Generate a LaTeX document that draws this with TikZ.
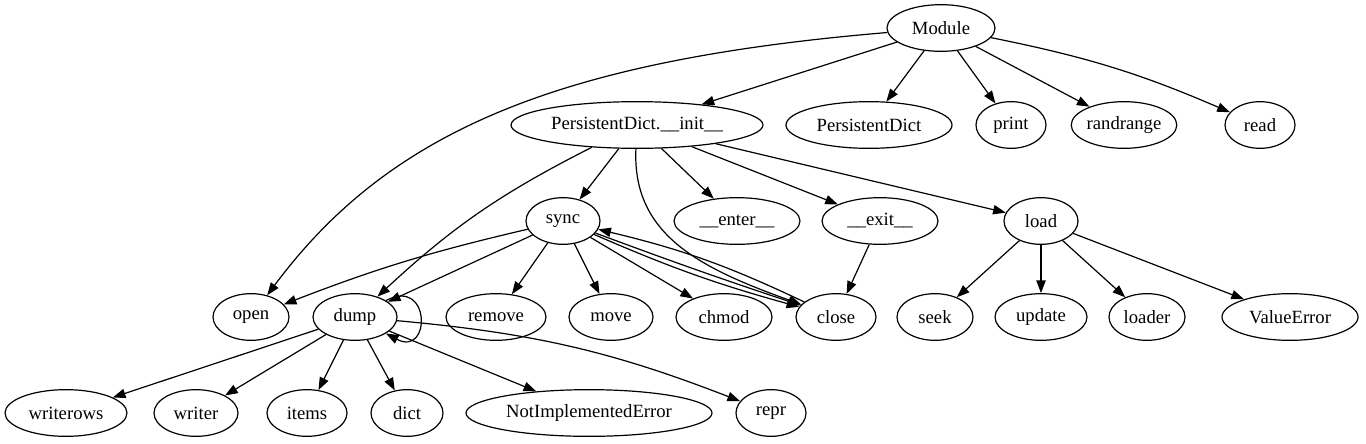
\documentclass[tikz,border=0pt]{standalone}
\usepackage{fontspec}
\setmainfont{Liberation Serif}
\usetikzlibrary{arrows.meta,shapes.geometric}
\tikzset{
  nd/.style={draw,ellipse,line width=0.9pt,inner sep=0pt,minimum height=35pt,font=\fontsize{14pt}{16pt}\selectfont},
  ar/.style={line width=0.9pt,-{Triangle[length=9.5pt,width=7pt]}}
}
\begin{document}
\begin{tikzpicture}[x=0.75pt,y=-0.75pt]
\useasboundingbox (0,0) rectangle (1366,443);
\node[nd,minimum width=81pt] (Module) at (941,28) {Module};
\node[nd,minimum width=189pt] (init) at (637,125) {PersistentDict.\_\_init\_\_};
\node[nd,minimum width=124.5pt] (PD) at (869,125) {PersistentDict};
\node[nd,minimum width=52.5pt] (print) at (1011,125) {print};
\node[nd,minimum width=73.5pt] (randrange) at (1124,125) {randrange};
\node[nd,minimum width=52.5pt] (read) at (1260,125) {read};
\node[nd,minimum width=55.5pt] (sync) at (563,221) {sync};
\node[nd,minimum width=94.5pt] (enter) at (737,221) {\_\_enter\_\_};
\node[nd,minimum width=87pt] (exit) at (880,221) {\_\_exit\_\_};
\node[nd,minimum width=55.5pt] (load) at (1041,221) {load};
\node[nd,minimum width=57pt] (open) at (251,317) {open};
\node[nd,minimum width=63pt] (dump) at (355,317) {dump};
\node[nd,minimum width=75pt] (remove) at (496,317) {remove};
\node[nd,minimum width=63pt] (move) at (611,317) {move};
\node[nd,minimum width=72pt] (chmod) at (724,317) {chmod};
\node[nd,minimum width=60pt] (close) at (836,317) {close};
\node[nd,minimum width=57pt] (seek) at (935,317) {seek};
\node[nd,minimum width=69pt] (update) at (1041,317) {update};
\node[nd,minimum width=57pt] (loader) at (1147,317) {loader};
\node[nd,minimum width=102pt] (VE) at (1290,317) {ValueError};
\node[nd,minimum width=91.5pt] (writerows) at (66,413) {writerows};
\node[nd,minimum width=63pt] (writer) at (196,413) {writer};
\node[nd,minimum width=60pt] (items) at (307,413) {items};
\node[nd,minimum width=54pt] (dict) at (407,413) {dict};
\node[nd,minimum width=184.5pt] (NIE) at (589,413) {NotImplementedError};
\node[nd,minimum width=52.5pt] (repr) at (771,413) {repr};
% Module edges
\draw[ar] (Module) .. controls (560,60) and (390,130) .. (open);
\draw[ar] (Module) -- (init);
\draw[ar] (Module) -- (PD);
\draw[ar] (Module) -- (print);
\draw[ar] (Module) -- (randrange);
\draw[ar] (Module) to[bend left=6] (read);
% init edges
\draw[ar] (init) to[bend right=8] (dump);
\draw[ar] (init) -- (sync);
\draw[ar] (init) .. controls (632,235) and (700,268) .. (close);
\draw[ar] (init) -- (enter);
\draw[ar] (init) -- (exit);
\draw[ar] (init) -- (load);
% sync edges
\draw[ar] (sync) to[bend right=4] (open);
\draw[ar] (sync) -- (dump);
\draw[ar] (sync) -- (remove);
\draw[ar] (sync) -- (move);
\draw[ar] (sync) -- (chmod);
\draw[ar] (sync) to[bend right=4] (close);
\draw[ar] (sync) to[bend right=1] (close);
\draw[ar] (close) to[bend right=6] (sync);
\draw[ar] (exit) -- (close);
% load edges
\draw[ar] (load) -- (seek);
\draw[ar] (load) -- (update);
\draw[ar] (load) -- (loader);
\draw[ar] (load) -- (VE);
% dump edges
\draw[ar] (dump) to[out=28,in=-28,looseness=4] (dump);
\draw[ar] (dump) -- (writerows);
\draw[ar] (dump) -- (writer);
\draw[ar] (dump) -- (items);
\draw[ar] (dump) -- (dict);
\draw[ar] (dump) -- (NIE);
\draw[ar] (dump) to[bend left=8] (repr);
\end{tikzpicture}
\end{document}
